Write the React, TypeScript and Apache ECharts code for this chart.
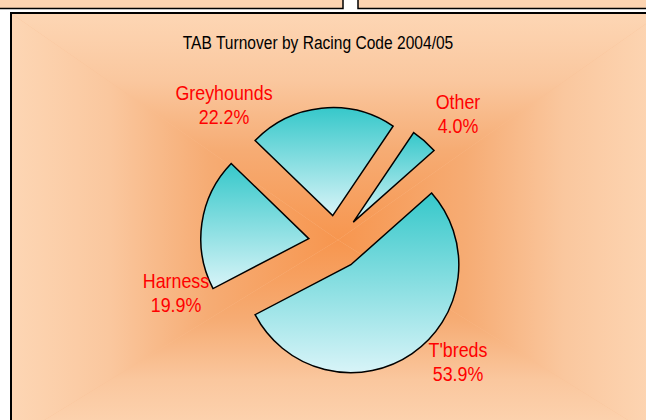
import React, { useEffect, useRef } from "react";
import * as echarts from "echarts";

// ---- data ----
const categories = ["T'breds", "Harness", "Greyhounds", "Other"];
const shares = [53.9, 19.9, 22.2, 4.0];
const chartTitle = "TAB Turnover by Racing Code 2004/05";

// ---- styling / layout (not data) ----
const labelSpots: [number, number][] = [
  [458, 361],
  [176, 292],
  [224, 104],
  [458, 113],
];
const FONT = "'Liberation Sans', Arial, sans-serif";
const bgStops = [
  { offset: 0, color: "#F7964F" },
  { offset: 0.4, color: "#F6AC74" },
  { offset: 0.7, color: "#FAC79E" },
  { offset: 1, color: "#FDD6B4" },
];
const G = [338, 240];
const TL = [12, 14];
const TR = [660, 14];
const BR = [660, 440];
const BL = [12, 440];

function grad(x0: number, y0: number, x1: number, y1: number) {
  return new echarts.graphic.LinearGradient(x0, y0, x1, y1, bgStops);
}

const sliceFill = () =>
  new echarts.graphic.LinearGradient(0, 0, 0, 1, [
    { offset: 0, color: "#36C8CA" },
    { offset: 1, color: "#D8F4F8" },
  ]);

export default function App() {
  const ref = useRef<HTMLDivElement>(null);
  useEffect(() => {
    const chart = echarts.init(ref.current!, null, { renderer: "svg" });
    const itemStyle = {
      color: sliceFill(),
      borderColor: "#000",
      borderWidth: 1.5,
      borderJoin: "miter" as const,
    };
    const labelTexts = categories.map((name, i) => ({
      type: "text",
      z: 5,
      silent: true,
      x: labelSpots[i][0],
      y: labelSpots[i][1],
      scaleX: 0.85,
      style: {
        text: `${name}\n${shares[i].toFixed(1)}%`,
        fill: "#FF0000",
        font: `21px ${FONT}`,
        lineHeight: 24,
        textAlign: "center",
        textVerticalAlign: "middle",
      },
    }));
    chart.setOption({
      animation: false,
      backgroundColor: "#ffffff",
      graphic: [
        {
          type: "rect",
          z: -10,
          shape: { x: 12, y: 14, width: 660, height: 430 },
          style: { fill: "#F9BE92" },
          silent: true,
        },
        { type: "polygon", z: -9, silent: true, shape: { points: [G, TL, TR] }, style: { fill: grad(0, 1, 0, 0) } },
        { type: "polygon", z: -9, silent: true, shape: { points: [G, BL, BR] }, style: { fill: grad(0, 0, 0, 1) } },
        { type: "polygon", z: -9, silent: true, shape: { points: [G, TL, BL] }, style: { fill: grad(1, 0, 0, 0) } },
        { type: "polygon", z: -9, silent: true, shape: { points: [G, TR, BR] }, style: { fill: grad(0, 0, 1, 0) } },
        {
          type: "rect",
          z: -8,
          silent: true,
          shape: { x: 11, y: 13, width: 700, height: 500 },
          style: { fill: "none", stroke: "#000", lineWidth: 2 },
        },
        {
          type: "rect",
          z: -8,
          silent: true,
          shape: { x: -5, y: -5, width: 348, height: 13.5 },
          style: { fill: "#FCD3B0", stroke: "#000", lineWidth: 1.5 },
        },
        {
          type: "rect",
          z: -8,
          silent: true,
          shape: { x: 358, y: -5, width: 300, height: 13.5 },
          style: { fill: "#FCD3B0", stroke: "#000", lineWidth: 1.5 },
        },
        {
          type: "text",
          z: 5,
          silent: true,
          x: 318,
          y: 42,
          scaleX: 0.82,
          style: {
            text: chartTitle,
            fill: "#000",
            font: `19px ${FONT}`,
            textAlign: "center",
            textVerticalAlign: "middle",
          },
        },
        ...labelTexts,
      ],
      series: [
        {
          type: "pie",
          center: [335.5, 242.5],
          radius: 108,
          startAngle: 41.6,
          clockwise: true,
          selectedMode: "multiple",
          selectedOffset: 27,
          avoidLabelOverlap: false,
          emphasis: { disabled: true },
          itemStyle,
          select: { itemStyle },
          label: { show: false },
          labelLine: { show: false },
          data: categories.map((name, i) => ({ name, value: shares[i], selected: true })),
        },
      ],
    });
    return () => chart.dispose();
  }, []);
  return (
    <div
      ref={ref}
      style={{ position: "absolute", left: 0, top: 0, width: 646, height: 420 }}
    />
  );
}
